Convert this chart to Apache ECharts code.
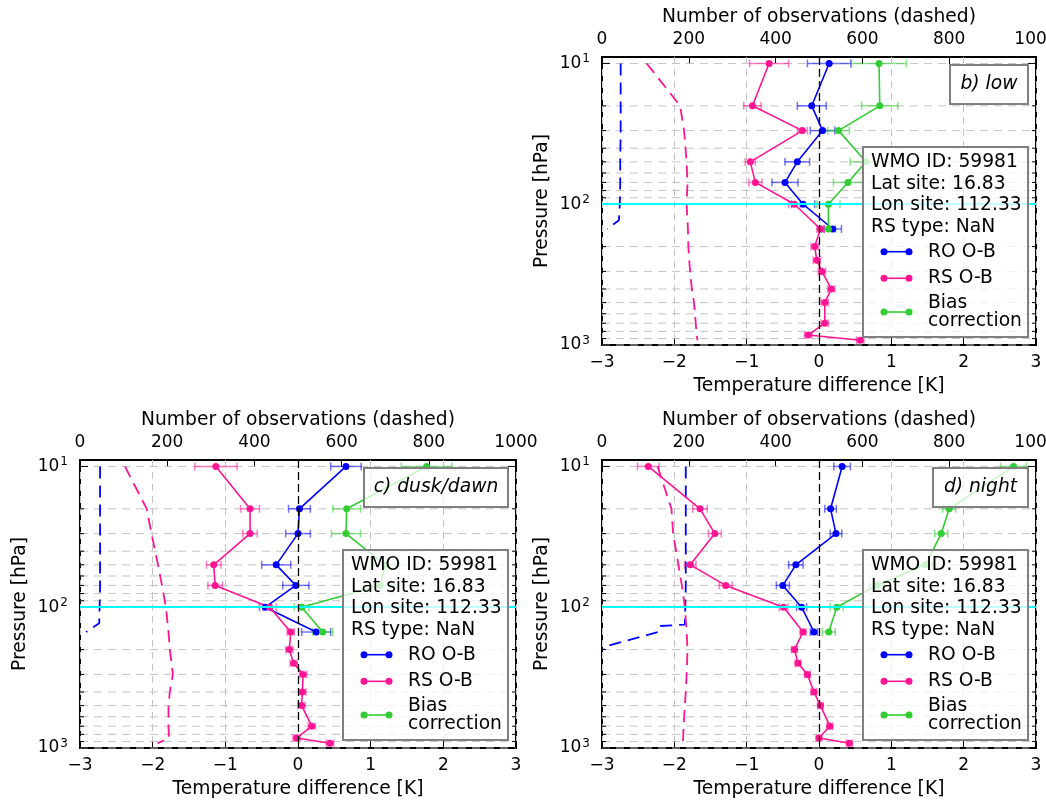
<!DOCTYPE html>
<html><head><meta charset="utf-8">
<script src="https://cdn.jsdelivr.net/npm/echarts@6/dist/echarts.min.js"></script>
<style>html,body{margin:0;padding:0;background:#fff}#c{width:1046px;height:803px}</style>
</head><body><div id="c"></div><script>
// ---------------- DATA ----------------
const levelsRO = [10, 20, 30, 50, 70, 100, 150];
const levelsRS = [10, 20, 30, 50, 70, 100, 150, 200, 250, 300, 400, 500, 700, 850, 925];
const gridLevels = [10, 20, 30, 40, 50, 60, 70, 80, 90, 100, 200, 300, 400, 500, 600, 700, 800, 900, 1000];
const cyanLevel = 100;
const panelLabels = ['b) low', 'c) dusk/dawn', 'd) night'];
const infoLines = ['WMO ID: 59981', 'Lat site: 16.83', 'Lon site: 112.33', 'RS type: NaN'];
const seriesNames = ['RO O-B', 'RS O-B', 'Bias correction'];

// panel b (low)
const roB = [0.14, -0.10, 0.05, -0.30, -0.47, -0.22, 0.19];
const roErrB = [0.30, 0.20, 0.17, 0.17, 0.18, 0.16, 0.12];
const rsB = [-0.69, -0.92, -0.23, -0.95, -0.88, -0.34, 0.02, -0.06, -0.03, 0.04, 0.17, 0.08, 0.08, -0.15, 0.57];
const rsErrB = [0.27, 0.12, 0.07, 0.07, 0.09, 0.08, 0.05, 0.05, 0.05, 0.05, 0.05, 0.05, 0.05, 0.05, 0.05];
const biasB = [0.83, 0.84, 0.27, 0.65, 0.40, 0.13, 0.13];
const biasErrB = [0.38, 0.25, 0.15, 0.22, 0.20, 0.16, 0.10];
const roCountLevB = [10, 20, 30, 50, 70, 100, 130, 150];
const roCountB = [43, 43, 43, 42, 42, 41, 39, 12];
const rsCountB = [103, 180, 189, 195, 197, 195, 198, 199, 201, 203, 207, 212, 216, 218, 220];

// panel c (dusk/dawn)
const roC = [0.66, 0.02, 0.00, -0.30, -0.03, -0.45, 0.25];
const roErrC = [0.21, 0.15, 0.17, 0.20, 0.18, 0.08, 0.20];
const rsC = [-1.13, -0.66, -0.66, -1.16, -1.14, -0.39, -0.10, -0.12, -0.06, 0.07, 0.06, 0.05, 0.19, -0.02, 0.44];
const rsErrC = [0.29, 0.13, 0.10, 0.10, 0.10, 0.09, 0.05, 0.05, 0.05, 0.05, 0.05, 0.05, 0.05, 0.05, 0.05];
const biasC = [1.77, 0.67, 0.66, 1.20, 1.13, 0.05, 0.34];
const biasErrC = [0.35, 0.19, 0.20, 0.20, 0.20, 0.10, 0.14];
const roCountLevC = [10, 20, 30, 50, 70, 100, 130, 150];
const roCountC = [46, 46, 46, 46, 46, 45, 44, 14];
const rsCountC = [103, 153, 164, 179, 188, 197, 203, 206, 210, 213, 206, 203, 203, 204, 178];

// panel d (night)
const roD = [0.32, 0.16, 0.235, -0.32, -0.50, -0.24, -0.07];
const roErrD = [0.115, 0.08, 0.08, 0.10, 0.09, 0.07, 0.05];
const rsD = [-2.36, -1.645, -1.44, -1.78, -1.29, -0.49, -0.22, -0.34, -0.29, -0.16, -0.07, 0.02, 0.15, 0.00, 0.42];
const rsErrD = [0.15, 0.10, 0.09, 0.08, 0.09, 0.06, 0.04, 0.04, 0.04, 0.04, 0.04, 0.04, 0.04, 0.04, 0.04];
const biasD = [2.69, 1.80, 1.69, 1.47, 0.80, 0.245, 0.135];
const biasErrD = [0.18, 0.09, 0.09, 0.10, 0.10, 0.09, 0.09];
const roCountLevD = [10, 20, 30, 50, 70, 100, 133, 136, 150, 190, 200];
const roCountD = [193, 193, 193, 193, 193, 192, 191, 134, 130, 7, 5];
const rsCountD = [128, 160, 164, 176, 184, 191, 195, 197, 196, 195, 193, 191, 188, 187, 186];

// ---------------- STYLE / LAYOUT ----------------
const FONT = 'DejaVu Sans';
const C_RO = '#0000ff', C_RS = '#ff1493', C_BIAS = '#32cd32';
const layouts = [
  { left: 602, top: 57, width: 434, height: 288, labelW: 78 },
  { left: 80, top: 460, width: 436, height: 288, labelW: 144 },
  { left: 602, top: 460, width: 434, height: 288, labelW: 95 }
];
const panels = [
  { ro: roB, roErr: roErrB, rs: rsB, rsErr: rsErrB, bias: biasB, biasErr: biasErrB, roCL: roCountLevB, roC: roCountB, rsC: rsCountB },
  { ro: roC, roErr: roErrC, rs: rsC, rsErr: rsErrC, bias: biasC, biasErr: biasErrC, roCL: roCountLevC, roC: roCountC, rsC: rsCountC },
  { ro: roD, roErr: roErrD, rs: rsD, rsErr: rsErrD, bias: biasD, biasErr: biasErrD, roCL: roCountLevD, roC: roCountD, rsC: rsCountD }
];

function zip2(xs, ys) { return xs.map((x, i) => [x, ys[i]]); }
function zip3(xs, ys, es) { return xs.map((x, i) => [x, ys[i], es[i]]); }

function errRender(params, api) {
  const x = api.value(0), y = api.value(1), e = api.value(2);
  const p0 = api.coord([x - e, y]), p1 = api.coord([x + e, y]);
  const color = api.visual('color');
  const h = 4;
  const st = { stroke: color, lineWidth: 1.5, opacity: 0.55 };
  return { type: 'group', children: [
    { type: 'line', shape: { x1: p0[0], y1: p0[1], x2: p1[0], y2: p1[1] }, style: st },
    { type: 'line', shape: { x1: p0[0], y1: p0[1] - h, x2: p0[0], y2: p0[1] + h }, style: st },
    { type: 'line', shape: { x1: p1[0], y1: p1[1] - h, x2: p1[0], y2: p1[1] + h }, style: st }
  ]};
}
function decoRender(params, api) {
  const lev = api.value(1);
  const cs = params.coordSys;
  const y = api.coord([0, lev])[1];
  const lg = Math.log10(lev);
  const major = Math.abs(lg - Math.round(lg)) < 1e-9;
  const tl = major ? 8 : 4;
  return { type: 'group', children: [
    { type: 'line', shape: { x1: cs.x, y1: y, x2: cs.x + cs.width, y2: y }, style: { stroke: '#c4c4c4', lineWidth: 1, lineDash: [8, 6] } },
    { type: 'line', shape: { x1: cs.x, y1: y, x2: cs.x + tl, y2: y }, style: { stroke: '#000', lineWidth: 1 } },
    { type: 'line', shape: { x1: cs.x + cs.width - tl, y1: y, x2: cs.x + cs.width, y2: y }, style: { stroke: '#000', lineWidth: 1 } }
  ]};
}

const grids = [], xAxes = [], yAxes = [], series = [], graphics = [];
const tickFont = { fontFamily: FONT, fontSize: 17, color: '#000' };
const nameFont = { fontFamily: FONT, fontSize: 18.7, color: '#000' };

layouts.forEach((L, g) => {
  const P = panels[g];
  grids.push({ left: L.left, top: L.top, width: L.width, height: L.height, show: true, borderColor: '#000', borderWidth: 2,
    backgroundColor: 'transparent', containLabel: false, outerBoundsMode: 'none' });
  xAxes.push({
    gridIndex: g, type: 'value', position: 'bottom', min: -3, max: 3, interval: 1,
    axisLine: { show: false },
    axisTick: { show: true, inside: true, length: 7, lineStyle: { color: '#000', width: 1 } },
    axisLabel: { ...tickFont, margin: 9, formatter: v => v < 0 ? '\u2212' + (-v) : String(v) },
    splitLine: { show: true, lineStyle: { color: '#c4c4c4', type: [7, 5], width: 1 } },
    name: 'Temperature difference [K]', nameLocation: 'middle', nameGap: 32, nameTextStyle: nameFont
  });
  xAxes.push({
    gridIndex: g, type: 'value', position: 'top', min: 0, max: 1000, interval: 200,
    axisLine: { show: false },
    axisTick: { show: true, inside: true, length: 7, lineStyle: { color: '#000', width: 1 } },
    axisLabel: { ...tickFont, margin: 9, formatter: v => String(v) },
    splitLine: { show: false },
    name: 'Number of observations (dashed)', nameLocation: 'middle', nameGap: 30, nameTextStyle: nameFont
  });
  yAxes.push({
    gridIndex: g, type: 'log', logBase: 10, min: 9, max: 1000, inverse: true,
    axisLine: { show: false }, axisTick: { show: false }, splitLine: { show: false },
    axisLabel: {
      ...tickFont, margin: 12,
      formatter: v => { const e = Math.round(Math.log10(v)); if (Math.abs(Math.pow(10, e) - v) > 1e-6 * v) return ''; return '10{s|' + e + '}'; },
      rich: { s: { fontFamily: FONT, fontSize: 12, color: '#000', verticalAlign: 'top', padding: [0, 0, 9, 1] } }
    },
    name: 'Pressure [hPa]', nameLocation: 'middle', nameGap: 50, nameRotate: 90, nameTextStyle: nameFont
  });
  const xb = 2 * g, xt = 2 * g + 1;
  series.push({
    type: 'custom', name: 'grid' + g, xAxisIndex: xb, yAxisIndex: g, z: 1, silent: true,
    renderItem: decoRender, encode: { x: 0, y: 1 },
    data: gridLevels.map(l => [0, l]),
    markLine: { silent: true, symbol: 'none', label: { show: false }, animation: false,
      data: [
        { yAxis: cyanLevel, lineStyle: { color: '#00ffff', width: 2, type: 'solid' } },
        { xAxis: 0, lineStyle: { color: '#000', width: 1.3, type: [8, 4] } }
      ] }
  });
  series.push({ type: 'line', name: 'RO count', xAxisIndex: xt, yAxisIndex: g, z: 2, data: zip2(P.roC, P.roCL), showSymbol: false, symbol: 'none',
    lineStyle: { color: C_RO, width: 1.8, type: [12, 7] }, silent: true });
  series.push({ type: 'line', name: 'RS count', xAxisIndex: xt, yAxisIndex: g, z: 2, data: zip2(P.rsC, levelsRS), showSymbol: false, symbol: 'none',
    lineStyle: { color: C_RS, width: 1.8, type: [12, 7] }, silent: true });
  [[P.ro, P.roErr, levelsRO, C_RO], [P.rs, P.rsErr, levelsRS, C_RS], [P.bias, P.biasErr, levelsRO, C_BIAS]].forEach((s, k) => {
    series.push({ type: 'custom', name: seriesNames[k] + ' err', xAxisIndex: xb, yAxisIndex: g, z: 3, silent: true,
      itemStyle: { color: s[3] }, renderItem: errRender, encode: { x: 0, y: 1 }, data: zip3(s[0], s[2], s[1]) });
  });
  [[P.ro, levelsRO, C_RO], [P.rs, levelsRS, C_RS], [P.bias, levelsRO, C_BIAS]].forEach((s, k) => {
    series.push({ type: 'line', name: seriesNames[k], xAxisIndex: xb, yAxisIndex: g, z: 4,
      data: zip2(s[0], s[1]), symbol: 'circle', symbolSize: 7, showSymbol: true,
      lineStyle: { color: s[2], width: 1.6 }, itemStyle: { color: s[2] } });
  });

  const right = L.left + L.width - 8;
  const lx = right - L.labelW, ly = L.top + 8;
  graphics.push({ type: 'rect', z: 50, shape: { x: lx, y: ly, width: L.labelW, height: 39 },
    style: { fill: 'rgba(255,255,255,0.75)', stroke: '#808080', lineWidth: 2 } });
  graphics.push({ type: 'text', z: 51, x: lx + L.labelW / 2, y: ly + 19.5,
    style: { text: panelLabels[g], font: 'italic 18.7px "DejaVu Sans"', fill: '#000', align: 'center', verticalAlign: 'middle' } });
  const bw = 165, bh = 190;
  const bx = right - bw, by = L.top + L.height - 8 - bh;
  graphics.push({ type: 'rect', z: 50, shape: { x: bx, y: by, width: bw, height: bh },
    style: { fill: 'rgba(255,255,255,0.75)', stroke: '#808080', lineWidth: 2 } });
  infoLines.forEach((t, i) => {
    graphics.push({ type: 'text', z: 51, x: bx + 8, y: by + 15 + i * 21.67,
      style: { text: t, font: '18.7px "DejaVu Sans"', fill: '#000', align: 'left', verticalAlign: 'middle' } });
  });
  const rows = [104.7, 131.3, 165];
  const cols = [C_RO, C_RS, C_BIAS];
  const texts = ['RO O-B', 'RS O-B', 'Bias\ncorrection'];
  rows.forEach((ry, i) => {
    const yy = by + ry;
    graphics.push({ type: 'line', z: 51, shape: { x1: bx + 21, y1: yy, x2: bx + 46, y2: yy }, style: { stroke: cols[i], lineWidth: 1.6 } });
    graphics.push({ type: 'circle', z: 51, shape: { cx: bx + 21, cy: yy, r: 3.5 }, style: { fill: cols[i] } });
    graphics.push({ type: 'circle', z: 51, shape: { cx: bx + 46, cy: yy, r: 3.5 }, style: { fill: cols[i] } });
    graphics.push({ type: 'text', z: 51, x: bx + 65, y: yy,
      style: { text: texts[i], font: '18.7px "DejaVu Sans"', fill: '#000', align: 'left', verticalAlign: 'middle', lineHeight: 17.5 } });
  });
});

const chart = echarts.init(document.getElementById('c'), null, { renderer: 'canvas' });
chart.setOption({
  animation: false,
  backgroundColor: '#fff',
  textStyle: { fontFamily: FONT },
  grid: grids, xAxis: xAxes, yAxis: yAxes, series: series,
  graphic: { elements: graphics }
});
</script></body></html>
